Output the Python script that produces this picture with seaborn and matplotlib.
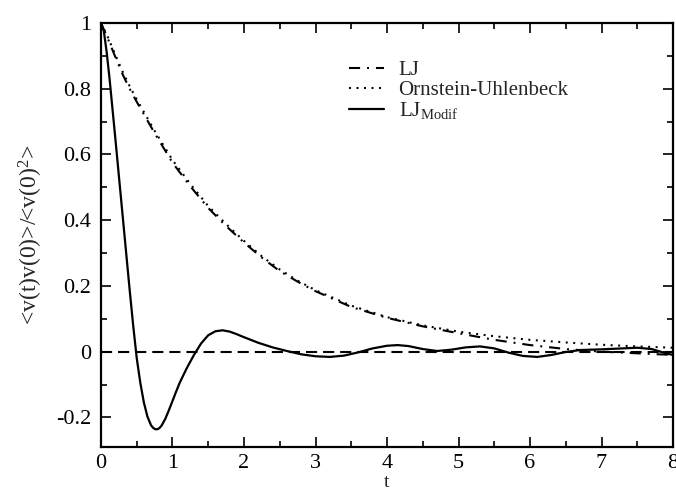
import matplotlib
matplotlib.use("Agg")
import matplotlib.pyplot as plt
import seaborn as sns
from matplotlib.ticker import MultipleLocator, FuncFormatter

# curves
t_decay = [0, 0.1, 0.2, 0.3, 0.4, 0.5, 0.75, 1.0, 1.25, 1.5, 1.75, 2.0, 2.25, 2.5,
           2.75, 3.0, 3.5, 4.0, 4.5, 5.0, 5.5, 6.0, 6.5, 7.0, 7.5, 8.0]
lj = [1.0, 0.95, 0.897, 0.845, 0.80, 0.76, 0.665, 0.575, 0.503, 0.437, 0.382,
      0.332, 0.286, 0.245, 0.213, 0.184, 0.136, 0.103, 0.077, 0.056, 0.036,
      0.02, 0.008, 0.0, -0.005, -0.01]
ou = [1.0, 0.955, 0.903, 0.853, 0.808, 0.767, 0.672, 0.583, 0.51, 0.443, 0.388,
      0.337, 0.29, 0.25, 0.216, 0.187, 0.14, 0.105, 0.08, 0.061, 0.047, 0.036,
      0.028, 0.021, 0.016, 0.012]

t_modif = [0, 0.04, 0.08, 0.12, 0.16, 0.2, 0.25, 0.3, 0.35, 0.4, 0.45, 0.5, 0.55,
           0.6, 0.65, 0.7, 0.73, 0.76, 0.79, 0.82, 0.85, 0.9, 0.95, 1.0, 1.05,
           1.1, 1.2, 1.3, 1.4, 1.5, 1.6, 1.7, 1.8, 1.9, 2.0, 2.2, 2.4, 2.6, 2.8,
           3.0, 3.2, 3.4, 3.6, 3.8, 4.0, 4.15, 4.3, 4.5, 4.7, 4.9, 5.1, 5.3, 5.5,
           5.7, 5.9, 6.1, 6.3, 6.5, 6.7, 7.0, 7.3, 7.5, 7.7, 7.9, 8.0]
lj_modif = [1.0, 0.975, 0.91, 0.83, 0.74, 0.65, 0.535, 0.42, 0.305, 0.19, 0.08,
            -0.02, -0.095, -0.155, -0.198, -0.224, -0.232, -0.236, -0.236, -0.232,
            -0.224, -0.204, -0.178, -0.15, -0.122, -0.095, -0.05, -0.01, 0.025,
            0.05, 0.062, 0.065, 0.061, 0.053, 0.044, 0.027, 0.013, 0.002, -0.008,
            -0.014, -0.016, -0.012, -0.002, 0.01, 0.018, 0.02, 0.017, 0.008,
            0.002, 0.006, 0.013, 0.016, 0.01, -0.003, -0.013, -0.016, -0.01,
            -0.001, 0.005, 0.007, 0.01, 0.012, 0.008, -0.005, -0.01]

sns.set_theme(style="ticks")
plt.rcParams["font.family"] = ["Liberation Serif", "DejaVu Serif"]
plt.rcParams["mathtext.fontset"] = "custom"
plt.rcParams["mathtext.rm"] = "Liberation Serif"
plt.rcParams["mathtext.it"] = "Liberation Serif:italic"
plt.rcParams["axes.unicode_minus"] = False
plt.rcParams["lines.scale_dashes"] = False

fig = plt.figure(figsize=(6.76, 4.92), dpi=100)
ax = fig.add_axes([0.1494, 0.0915, 0.8462, 0.8618])

ax.axhline(0, color="black", linewidth=1.5, linestyle=(0, (8, 4.3)))
sns.lineplot(x=t_decay, y=lj, ax=ax, color="black", linewidth=1.5,
             linestyle=(0, (8, 5, 1.4, 5)), label="LJ", estimator=None)
sns.lineplot(x=t_decay, y=ou, ax=ax, color="black", linewidth=1.5,
             linestyle=(0, (1.4, 4)), label="Ornstein-Uhlenbeck", estimator=None)
sns.lineplot(x=t_modif, y=lj_modif, ax=ax, color="black", linewidth=1.6,
             linestyle="-", label=r"LJ$_{\mathrm{Modif}}$", estimator=None)

ax.set_xlim(0, 8)
ax.set_ylim(-0.29, 1)
ax.xaxis.set_major_locator(MultipleLocator(1))
ax.xaxis.set_minor_locator(MultipleLocator(0.5))
ax.yaxis.set_major_locator(MultipleLocator(0.2))
ax.yaxis.set_minor_locator(MultipleLocator(0.1))
ax.yaxis.set_major_formatter(FuncFormatter(lambda v, p: f"{v:g}" if abs(v) > 1e-9 else "0"))
ax.xaxis.set_major_formatter(FuncFormatter(lambda v, p: f"{v:g}"))

ax.tick_params(which="both", direction="in", top=True, right=True,
               colors="black", labelsize=16, width=1.2)
ax.tick_params(which="major", length=7, pad=7)
ax.tick_params(axis="x", which="major", pad=5)
ax.tick_params(which="minor", length=4.5)
for s in ax.spines.values():
    s.set_linewidth(1.6)
    s.set_color("black")

ax.set_xlabel("t", fontsize=14)
ax.xaxis.set_label_coords(0.5, -0.064)
ax.set_ylabel(r"<v(t)v(0)>/<v(0)$^{2}$>", fontsize=17, labelpad=8)

ax.legend(loc="upper left", bbox_to_anchor=(0.40, 0.955), frameon=False,
          fontsize=15, handlelength=1.7, handletextpad=0.7, labelspacing=0.0)

fig.savefig("out.png", dpi=100)
